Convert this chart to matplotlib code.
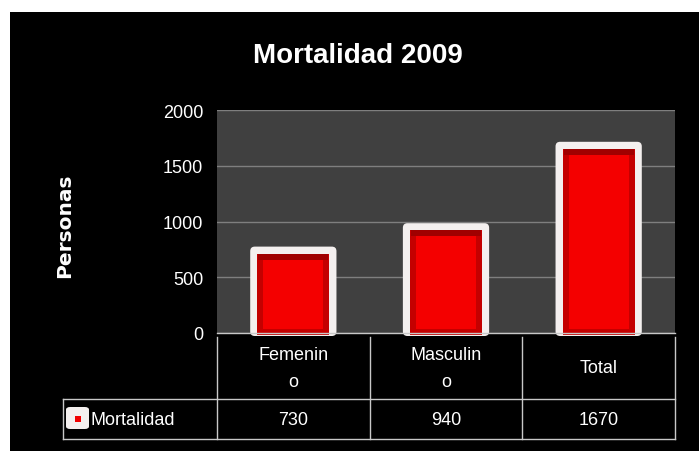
import matplotlib
matplotlib.use("Agg")
import matplotlib.pyplot as plt
from matplotlib import font_manager
from matplotlib.patches import Rectangle, FancyBboxPatch

# datos del grafico
categorias = ["Femenin\no", "Masculin\no", "Total"]
valores = [730, 940, 1670]
serie = "Mortalidad"
titulo = "Mortalidad 2009"
eje_y = "Personas"
ticks_y = [0, 500, 1000, 1500, 2000]

# fuente estrecha si existe (parecida a Arial Narrow)
nombres = {f.name for f in font_manager.fontManager.ttflist}
fuente = "Liberation Sans Narrow" if "Liberation Sans Narrow" in nombres else "Liberation Sans"
plt.rcParams["font.family"] = [fuente, "DejaVu Sans"]

W, H = 699, 452
fig = plt.figure(figsize=(W / 100, H / 100), dpi=100, facecolor="white")


def px(x, y):
    # pixel (desde arriba-izquierda) -> fraccion de figura
    return x / W, 1 - y / H


# fondo negro del grafico
x0, y0 = px(10, H)
fig.patches.append(Rectangle((x0, y0), 1 - x0, 1 - 13 / H, transform=fig.transFigure,
                             facecolor="black", edgecolor="none", zorder=-5))

izq, der, arriba, abajo = 217, 675, 111, 334
ax = fig.add_axes([izq / W, 1 - abajo / H, (der - izq) / W, (abajo - arriba) / H])
ax.set_facecolor("#404040")
for s in ax.spines.values():
    s.set_visible(False)

ax.set_xlim(-0.5, len(valores) - 0.5)
ax.set_ylim(0, 2000)
ax.set_yticks(ticks_y)
ax.set_yticklabels([str(t) for t in ticks_y], color="white", fontsize=13)
ax.tick_params(axis="y", length=0, pad=10)
ax.set_xticks([])
ax.yaxis.grid(True, color="#7f7f7f", linewidth=1)
ax.set_axisbelow(True)

# barras: marco blanco redondeado + relleno rojo con bisel
ancho = 0.565
alto_px = abajo - arriba
col_w = (der - izq) / len(valores)
uy = 2000 / alto_px   # 1 px en unidades de y
ux = 1 / col_w        # 1 px en unidades de x
for i, v in enumerate(valores):
    marco = FancyBboxPatch((i - ancho / 2, -3 * uy), ancho, v + 8 * uy,
                           boxstyle="round,pad=0,rounding_size=0.03",
                           mutation_aspect=uy / ux,
                           facecolor="#f4f0ef", edgecolor="none", zorder=3, clip_on=False)
    ax.add_patch(marco)
    w_rojo = ancho - 14 * ux
    ax.bar(i, v, width=w_rojo, bottom=-2 * uy, color="#c40000", zorder=4, clip_on=False)
    ax.bar(i, 6 * uy, width=w_rojo - 2 * ux, bottom=v - 8 * uy, color="#a00000", zorder=5)
    ax.bar(i, v - 12 * uy, width=w_rojo - 12 * ux, bottom=4 * uy, color="#f40000", zorder=6)

# tabla de datos debajo del grafico
gris = "#c8c8c8"
fila1, fila2 = 400, 440
leyenda_x = 63
lineas = [
    ((izq, abajo), (der, abajo)),
    ((leyenda_x, fila1), (der, fila1)),
    ((leyenda_x, fila2), (der, fila2)),
    ((leyenda_x, fila1), (leyenda_x, fila2)),
]
for k in range(len(valores) + 1):
    xk = izq + k * col_w
    lineas.append(((xk, abajo + 4), (xk, fila2)))
for (a, b) in lineas:
    pa, pb = px(*a), px(*b)
    fig.add_artist(plt.Line2D([pa[0], pb[0]], [pa[1], pb[1]], color=gris,
                              linewidth=1, transform=fig.transFigure, zorder=1))

for k, (cat, v) in enumerate(zip(categorias, valores)):
    cx = izq + (k + 0.5) * col_w
    fig.text(*px(cx, (abajo + fila1) / 2 + 2), cat, color="white", fontsize=13,
             ha="center", va="center", linespacing=1.8)
    fig.text(*px(cx, (fila1 + fila2) / 2 + 1), str(v), color="white", fontsize=13,
             ha="center", va="center")

# clave de la leyenda
kx, ky = px(66, 430)
fig.patches.append(FancyBboxPatch((kx, ky), 23 / W, 22 / H, transform=fig.transFigure,
                                  boxstyle="round,pad=0,rounding_size=0.006",
                                  facecolor="#f4f0ef", edgecolor="none", zorder=2))
fig.patches.append(Rectangle(px(74.5, 423), 6 / W, 6 / H, transform=fig.transFigure,
                             facecolor="#f00000", edgecolor="none", zorder=3))
fig.text(*px(91, (fila1 + fila2) / 2 + 1), serie, color="white", fontsize=13,
         ha="left", va="center")

fig.text(*px(358, 56), titulo, color="white", fontsize=20, fontweight="bold",
         ha="center", va="center")
fig.text(*px(65, 226), eje_y, color="white", fontsize=14.5, fontweight="bold",
         ha="center", va="center", rotation=90, family="DejaVu Sans")

fig.savefig("out.png", dpi=100, facecolor="white")
